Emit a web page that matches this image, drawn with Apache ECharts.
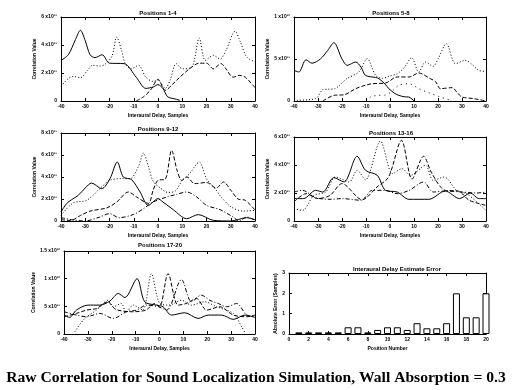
<!DOCTYPE html>
<html><head><meta charset="utf-8">
<script src="https://cdn.jsdelivr.net/npm/echarts@6/dist/echarts.min.js"></script>
<style>html,body{margin:0;padding:0;background:#fff}#c{width:524px;height:390px}</style>
</head><body><div id="c"></div><script>
// ---------- DATA (correlation values in units of 1e11) ----------
const panelTitles = ['Positions 1-4','Positions 5-8','Positions 9-12','Positions 13-16','Positions 17-20','Interaural Delay Estimate Error'];
const mainTitle = 'Raw Correlation for Sound Localization Simulation, Wall Absorption = 0.3';
const xTicks = [-40,-30,-20,-10,0,10,20,30,40];

// Panel 1
const p1SolidX = [-40,-37,-34,-32,-30,-28,-26,-23,-20,-14,-9,-5,-2,0,2,4,7,9];
const p1SolidY = [2.9,3.3,4.4,5.05,4.3,3.3,3.1,3.3,2.7,2.67,1.7,0.9,1.0,1.17,0.9,0.3,0.15,0.05];
const p1DotX = [-40,-37,-35,-32,-29,-27,-24,-22,-19,-17,-15,-13.5,-11,-8,-5,-2,0,3,5,7.5,10,14,17,19.5,22.8,25.6,28,31.8,34,36.6,40];
const p1DotY = [1.05,1.6,1.75,1.67,2.2,2.55,2.5,2.6,3.2,4.57,3.6,2.67,2.3,2.55,1.7,1.4,1.48,0.9,1.5,2.67,2.3,2.43,4.5,2.9,3.26,3.0,3.6,4.98,4.2,3.14,2.8];
const p1DashX = [-9,-6,-3,0,3,6,9,13,17,20,22.8,26,28,31,33.5,36,40];
const p1DashY = [0,0.3,0.8,1.55,0.76,1.2,1.7,2.3,2.7,2.7,2.3,2.67,2.3,1.7,1.83,1.7,0.95];

// Panel 2
const p2SolidX = [-40,-38,-35,-32.5,-29,-26,-23.4,-20,-17.8,-14.3,-12,-10.2,-6,-4.6,-2,-0.5,2,3.7,6,7.8,10];
const p2SolidY = [3.65,3.45,4.9,4.5,5.0,6.0,6.94,5.0,4.25,4.64,4.0,3.05,2.8,2.66,2.0,1.47,0.9,0.67,0.5,0.48,0];
const p2DotX = [-40,-31,-28,-26,-23,-18,-13,-9.5,-6,-3,-0.5,3,6,9,12,14.8,18,20,23.5,27.3,31.4,34,37,40];
const p2DotY = [0.08,0.28,1.35,1.4,1.47,2.66,3.45,5.04,3.05,2.7,2.94,3.25,4.0,5.16,3.45,4.64,4.13,5.0,6.83,4.44,4.84,4.4,3.65,3.53];
const p2DashX = [-28,-23.4,-19,-14.3,-10,-7.4,-1.9,3,7.9,12,16.8,19,21,25.9,28,30,35,40];
const p2DashY = [0,0.67,0.75,1.47,1.9,2.06,2.14,2.86,2.86,3.33,2.66,2.3,1.47,1.59,1.0,0.48,0.28,0];
const p2SparseX = [-10,-8,-5,-2,1,3.7,7.9,12,16,21,26];
const p2SparseY = [0,0.48,0.67,0.7,1.2,1.87,2.06,1.47,1.0,0.48,0];

// Panel 3
const p3SolidX = [-40,-37.7,-35.6,-32.9,-30,-27.4,-23.2,-19.8,-16.8,-14.3,-10.9,-7.4,-4,0,2,6.3,11.8,16.6,22.8,30,36.6,40];
const p3SolidY = [0.82,1.58,1.94,2.33,3.0,3.45,2.94,3.85,5.36,4.0,3.76,2.64,1.42,2.03,1.73,1.03,0.21,0.58,0.06,0,0.3,0.12];
const p3DotX = [-40,-35,-29.4,-24,-19.8,-15,-11.5,-8,-6,-4,-2,1,4,7,10,13,17,20,23.5,26,30,35,40];
const p3DotY = [0.5,1.64,1.88,2.94,3.7,3.85,3.85,5.0,6.18,5.0,3.6,3.0,2.6,2.7,3.7,4.3,5.36,3.85,2.94,2.2,1.3,0.9,0.97];
const p3DashX = [-40,-36,-32,-28,-21,-17,-12.2,-8.8,-4,-2,0,3,5.6,8,9.8,12,15,20,24,27,30,33,36,40];
const p3DashY = [0.12,0.05,0.5,0.9,1.2,1.73,2.64,2.18,1.6,2.8,3.7,3.8,6.42,4.5,3.7,4.0,3.4,3.5,3.0,3.55,2.8,2.0,1.88,1.0];
const p3DashDotX = [-40,-35,-30,-24,-20,-16,-10,-6,-2,3.6,7.7,11.8,16,20,25.6,31,33.5,36.6,40];
const p3DashDotY = [0.3,0.1,0,0.36,0.67,0.3,0.6,1.12,1.73,2.18,2.42,2.64,2.18,1.42,1.03,0.36,0,0.36,0.06];

// Panel 4
const p4SolidX = [-40,-36,-31,-28,-23.4,-19.2,-13.7,-10.2,-5.3,-1.9,3,7.9,16.2,23,29,33.5,37,40];
const p4SolidY = [1.6,1.6,2.19,2.07,3.1,2.79,4.62,3.62,3.26,2.19,2.07,1.55,1.55,2.14,1.6,2.0,1.6,1.6];
const p4DotX = [-40,-36.5,-31.7,-26.8,-22.7,-17,-13.7,-10.2,-4,1.1,5,8.5,14.8,18,22.5,28,32,40];
const p4DotY = [0.88,0.76,1.83,2.07,3.14,2.79,3.62,2.95,5.71,3.38,3.74,3.26,3.98,2.9,3.14,2.14,1.95,0.76];
const p4DashX = [-40,-35,-30,-25,-20,-11.6,-5.4,-0.6,4.8,9.2,14,17.5,23,28.5,33,40];
const p4DashY = [1.36,1.95,1.6,1.83,2.67,1.52,2.43,3.14,5.76,3.0,4.62,3.38,2.19,2.14,1.48,1.12];
const p4DashDotX = [-40,-36.5,-31,-25,-20,-12,-7.4,-2,3,8,14,18,23,30,36,40];
const p4DashDotY = [2.07,2.19,1.67,1.55,1.6,1.48,2.19,2.19,1.95,2.19,2.79,2.07,2.14,2.07,2.0,2.07];

// Panel 5
const p5SolidX = [-40,-37.6,-34.8,-30,-25,-20.8,-17.3,-14.5,-9.4,-6.2,-1.3,1.5,5,10.6,16.2,20.4,26,30.9,35.8,40];
const p5SolidY = [3.42,3.0,4.32,5.22,5.22,5.94,7.32,6.6,10.0,5.82,5.22,4.92,3.42,3.84,2.82,3.42,3.42,2.64,3.42,3.0];
const p5DotX = [-35.5,-31.3,-26.4,-21.5,-19.4,-16,-14,-11,-7,-3.4,0.1,4,9.2,13.4,18.8,23.9,30.9,34.4,35.8];
const p5DotY = [0.42,2.82,4.32,6.1,4.92,5.52,3.9,5.22,4.32,10.9,5.52,5.22,6.1,5.22,5.82,4.92,3.72,1.32,0.24];
const p5DashX = [-40,-34.8,-30.6,-26.4,-21.7,-18.3,-11.3,-5.7,-2,0,3.6,7.8,11.3,15.5,19.7,25.3,30.9,36.5,40];
const p5DashY = [3.12,3.72,4.32,4.6,5.82,4.44,4.02,4.32,5.52,4.9,10.9,5.22,5.52,6.42,4.32,4.92,3.42,3.12,3.42];
const p5DashDotX = [-40,-34.8,-30.6,-25,-19.4,-13.8,-9.6,-5.4,-0.5,3,9.2,13.4,17.5,21,24.6,28.1,32.3,36.5,40];
const p5DashDotY = [4.02,3.42,3.12,3.72,2.82,4.02,4.32,5.22,4.92,4.32,9.84,5.82,7.02,6.1,5.52,4.92,5.52,3.42,3.12];

// Panel 6 (bars)
const positions = [1,2,3,4,5,6,7,8,9,10,11,12,13,14,15,16,17,18,19,20];
const absError = [0.08,0.08,0.08,0.08,0.08,0.33,0.33,0.08,0.2,0.33,0.33,0.2,0.53,0.28,0.28,0.53,2.0,0.82,0.82,2.0];

// y tick labels per panel
const yTicks = [[0,2,4,6],[0,5,10],[0,2,4,6,8],[0,2,4,6],[0,5,10,15],[0,1,2,3]];
const yLabels = [
  ['0','2 x10¹¹','4 x10¹¹','6 x10¹¹'],
  ['0','5 x10¹¹','1 x10¹²'],
  ['0','2 x10¹¹','4 x10¹¹','6 x10¹¹','8 x10¹¹'],
  ['0','2 x10¹¹','4 x10¹¹','6 x10¹¹'],
  ['0','5 x10¹¹','1 x10¹²','1.5 x10¹²'],
  ['0','1','2','3']
];
const barXTicks = [0,2,4,6,8,10,12,14,16,18,20];

// ---------- CHART ----------
const grids = [
  {left:61, top:17, width:194, height:84},
  {left:294, top:17, width:192, height:84},
  {left:61, top:133, width:194, height:88},
  {left:294, top:137, width:192, height:84},
  {left:64, top:251, width:191, height:83},
  {left:289, top:273, width:197, height:61}
];
const titlePos = [[158,13],[391,13],[158,129],[391,133],[160,245],[397,269]];
const FONT = 'Liberation Sans';
const lab = {fontSize:5, fontWeight:'bold', color:'#000', fontFamily:FONT};

const xAxes = [], yAxes = [];
grids.forEach((g,i)=>{
  const isBar = i===5;
  const xmin = isBar?0:-40, xmax = isBar?20:40, xint = isBar?2:10;
  const yMax = yTicks[i][yTicks[i].length-1];
  const yInt = yTicks[i][1]-yTicks[i][0];
  const common = {type:'value', gridIndex:i, min:xmin, max:xmax, interval:xint,
    splitLine:{show:false}, axisLine:{show:true,onZero:false,lineStyle:{color:'#000',width:1}},
    axisTick:{show:true,inside:true,length:3,lineStyle:{color:'#000'}}};
  xAxes.push(Object.assign({}, common, {position:'bottom',
    name: isBar?'Position Number':'Interaural Delay, Samples', nameLocation:'middle', nameGap:12,
    nameTextStyle:{fontSize:5,fontWeight:'bold',fontFamily:FONT,color:'#000'},
    axisLabel:Object.assign({margin:3},lab)}));
  xAxes.push(Object.assign({}, common, {position:'top', axisLabel:{show:false}}));
  const yc = {type:'value', gridIndex:i, min:0, max:yMax, interval:yInt,
    splitLine:{show:false}, axisLine:{show:true,onZero:false,lineStyle:{color:'#000',width:1}},
    axisTick:{show:true,inside:true,length:3,lineStyle:{color:'#000'}}};
  yAxes.push(Object.assign({}, yc, {position:'left',
    name: isBar?'Absolute Error (Samples)':'Correlation Value', nameLocation:'middle', nameGap: isBar?11:17, nameRotate:90,
    nameTextStyle:{fontSize:5,fontWeight:'bold',fontFamily:FONT,color:'#000'},
    axisLabel:Object.assign({margin:4, formatter:(v)=>{const k=yTicks[i].indexOf(v);return k>=0?yLabels[i][k]:'';}},lab)}));
  yAxes.push(Object.assign({}, yc, {position:'right', axisLabel:{show:false}}));
});

const styles = {
  solid:'solid', dot:[1,2], dash:[4,2], sparse:[1,4], dashdot:[4,2,1,2]
};
function line(panel, xs, ys, st){
  return {type:'line', xAxisIndex:panel*2, yAxisIndex:panel*2, smooth:0.3, symbol:'none',
    clip:true, lineStyle:{color:'#000', width:1, type:styles[st]},
    data: xs.map((x,k)=>[x, ys[k]])};
}
const series = [
  line(0,p1SolidX,p1SolidY,'solid'), line(0,p1DotX,p1DotY,'dot'), line(0,p1DashX,p1DashY,'dash'),
  line(1,p2SolidX,p2SolidY,'solid'), line(1,p2DotX,p2DotY,'dot'), line(1,p2DashX,p2DashY,'dash'), line(1,p2SparseX,p2SparseY,'sparse'),
  line(2,p3SolidX,p3SolidY,'solid'), line(2,p3DotX,p3DotY,'dot'), line(2,p3DashX,p3DashY,'dash'), line(2,p3DashDotX,p3DashDotY,'dashdot'),
  line(3,p4SolidX,p4SolidY,'solid'), line(3,p4DotX,p4DotY,'dot'), line(3,p4DashX,p4DashY,'dash'), line(3,p4DashDotX,p4DashDotY,'dashdot'),
  line(4,p5SolidX,p5SolidY,'solid'), line(4,p5DotX,p5DotY,'dot'), line(4,p5DashX,p5DashY,'dash'), line(4,p5DashDotX,p5DashDotY,'dashdot'),
  {type:'bar', xAxisIndex:10, yAxisIndex:10, barWidth:7, clip:true,
   itemStyle:{color:'#fff', borderColor:'#000', borderWidth:1},
   data: positions.map((p,k)=>[p, absError[k]])}
];

const graphics = panelTitles.map((t,i)=>({type:'text', x:titlePos[i][0], y:titlePos[i][1],
  style:{text:t, align:'center', verticalAlign:'middle', font:'bold 6px "'+FONT+'"', fill:'#000'}}));
graphics.push({type:'text', x:256, y:378, style:{text:mainTitle, align:'center', verticalAlign:'middle',
  font:'bold 15.6px "Liberation Serif"', fill:'#000'}});

const chart = echarts.init(document.getElementById('c'), null, {renderer:'canvas'});
chart.setOption({
  animation:false, backgroundColor:'#fff',
  grid:grids, xAxis:xAxes, yAxis:yAxes, series:series, graphic:graphics
});
</script></body></html>
